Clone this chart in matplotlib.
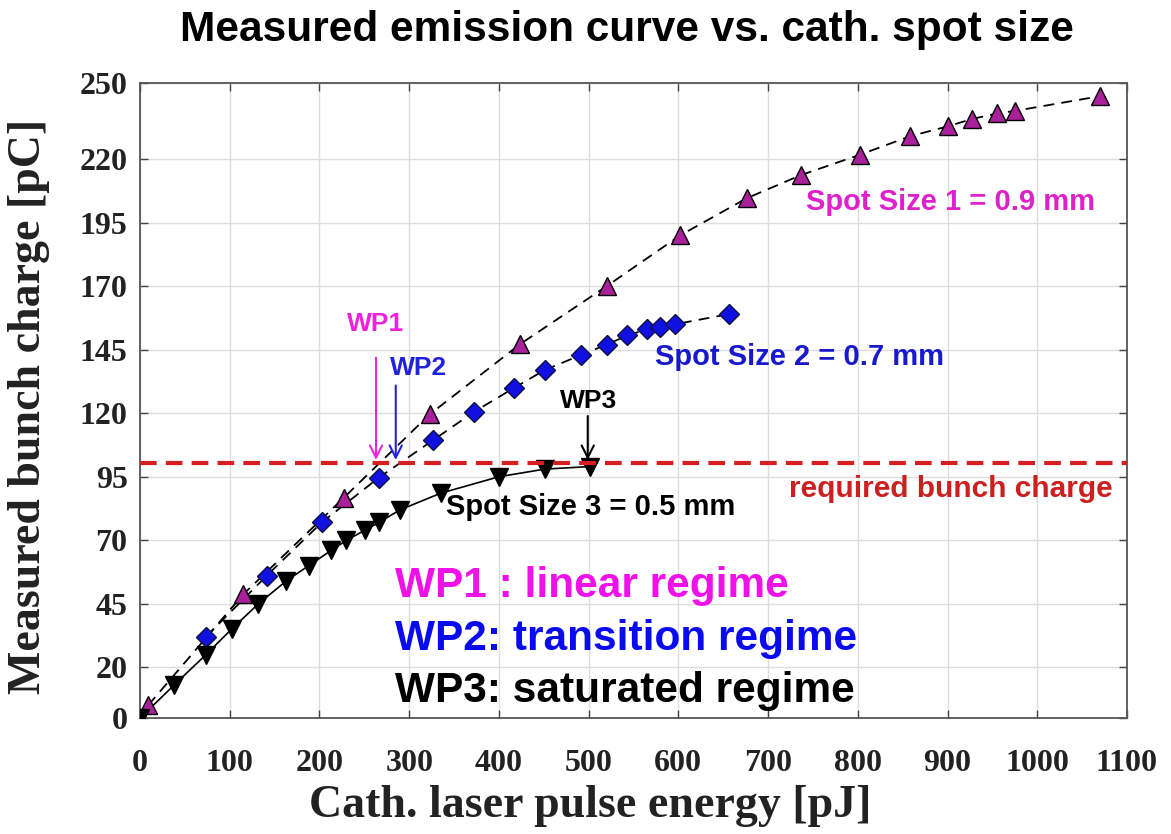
import numpy as np
import matplotlib.pyplot as plt

# spot size 1 = 0.9 mm
e1 = [9, 115, 227, 323, 424, 520, 602, 676, 737, 802, 858, 901, 927, 955, 975, 1070]
q1 = [5, 48.7, 86.7, 119.6, 147.3, 170, 190, 204.6, 213.8, 221.7, 229, 233, 235.8, 238, 239, 244.8]
# spot size 2 = 0.7 mm
e2 = [73.5, 141, 202.5, 266, 327, 372.5, 417, 451, 492, 520, 543, 565, 580, 596, 656]
q2 = [32, 56, 77, 94.6, 109.5, 120.6, 130, 137, 143, 147, 150.6, 153, 154, 155, 159]
# spot size 3 = 0.5 mm
e3 = [0, 38, 73.5, 102, 132, 163, 188, 213, 230, 251, 266, 290, 335, 400, 451, 501]
q3 = [0, 13, 25, 35, 45, 54, 60, 66, 70, 74, 77, 82, 88.5, 95, 98, 99]

q_req = 100.5
yticks = [0, 20, 45, 70, 95, 120, 145, 170, 195, 220, 250]
xticks = list(range(0, 1101, 100))

# working points: (label, energy, arrow top, label x, label y, colour)
wps = [("WP1", 263, 143, 263, 155, "#EE22DD"),
       ("WP2", 285, 132, 310, 138, "#2222DD"),
       ("WP3", 499, 120, 500, 125, "black")]

serif = ["Liberation Serif", "DejaVu Serif"]
sans = ["Liberation Sans", "DejaVu Sans"]

fig = plt.figure(figsize=(11.71, 8.34), dpi=100)
ax = fig.add_axes([0.1196, 0.139, 0.8428, 0.7615])

ax.plot(e1, q1, "k--", lw=1.3, dashes=(6, 4), zorder=2)
ax.plot(e2, q2, "k--", lw=1.3, dashes=(6, 4), zorder=2)
ax.plot(e3, q3, "k-", lw=1.2, zorder=2)
ax.plot(e1, q1, ls="none", marker="^", ms=13, mfc="#A8209A", mec="black", mew=1.0, zorder=3)
ax.plot(e2, q2, ls="none", marker="D", ms=10, mfc="#1010E0", mec="#101040", mew=1.0, zorder=3)
ax.plot(e3, q3, ls="none", marker="v", ms=13, mfc="black", mec="black", zorder=3)

ax.axhline(q_req, color="#D62020", lw=3, ls=(0, (4, 2.2)), zorder=4)

for name, x, top, lx, ly, c in wps:
    ax.annotate("", xy=(x, q_req), xytext=(x, top),
                arrowprops=dict(arrowstyle="->", color=c, lw=1.5, mutation_scale=22), zorder=5)
    ax.text(lx, ly, name, color=c, fontsize=19, fontweight="bold", family=sans,
            ha="center", va="center")

ax.text(742, 203, "Spot Size 1 = 0.9 mm", color="#DD22CC", fontsize=21, fontweight="bold",
        family=sans, ha="left", va="center")
ax.text(574, 142, "Spot Size 2 = 0.7 mm", color="#1818CC", fontsize=21, fontweight="bold",
        family=sans, ha="left", va="center")
ax.text(341, 83, "Spot Size 3 = 0.5 mm", color="black", fontsize=21, fontweight="bold",
        family=sans, ha="left", va="center")
ax.text(904, 90, "required bunch charge", color="#CC2020", fontsize=21.5, fontweight="bold",
        family=sans, ha="center", va="center")

ax.text(284, 51.8, "WP1 : linear regime", color="#F010E8", fontsize=30.5, fontweight="bold",
        family=sans, ha="left", va="center")
ax.text(284, 31.2, "WP2: transition regime", color="#0A0AF0", fontsize=30.5, fontweight="bold",
        family=sans, ha="left", va="center")
ax.text(284, 10.7, "WP3: saturated regime", color="black", fontsize=30.5, fontweight="bold",
        family=sans, ha="left", va="center")

ax.set_xlim(0, 1100)
ax.set_ylim(0, 250)
ax.set_xticks(xticks)
ax.set_yticks(yticks)
ax.grid(True, color="#DDDDDD", lw=1)
ax.set_axisbelow(True)
ax.tick_params(direction="in", top=True, right=True, length=6, width=1, color="#444444")
ax.tick_params(axis="x", pad=22)
ax.tick_params(axis="y", pad=9)
for lab in ax.get_xticklabels() + ax.get_yticklabels():
    lab.set_family(serif)
    lab.set_fontweight("bold")
    lab.set_fontsize(23)
    lab.set_color("#222222")
for s in ax.spines.values():
    s.set_color("#555555")
    s.set_linewidth(1.3)

ax.set_xlabel("Cath. laser pulse energy [pJ]", family=serif, fontweight="bold",
              fontsize=33, color="#222222")
ax.set_ylabel("Measured bunch charge [pC]", family=serif, fontweight="bold",
              fontsize=33, color="#222222")
ax.xaxis.set_label_coords(0.456, -0.105)
ax.yaxis.set_label_coords(-0.091, 0.49)

fig.text(0.535, 0.964, "Measured emission curve vs. cath. spot size",
         family=sans, fontweight="bold", fontsize=30.5, ha="center", va="center")

fig.savefig("out.png", dpi=100)
